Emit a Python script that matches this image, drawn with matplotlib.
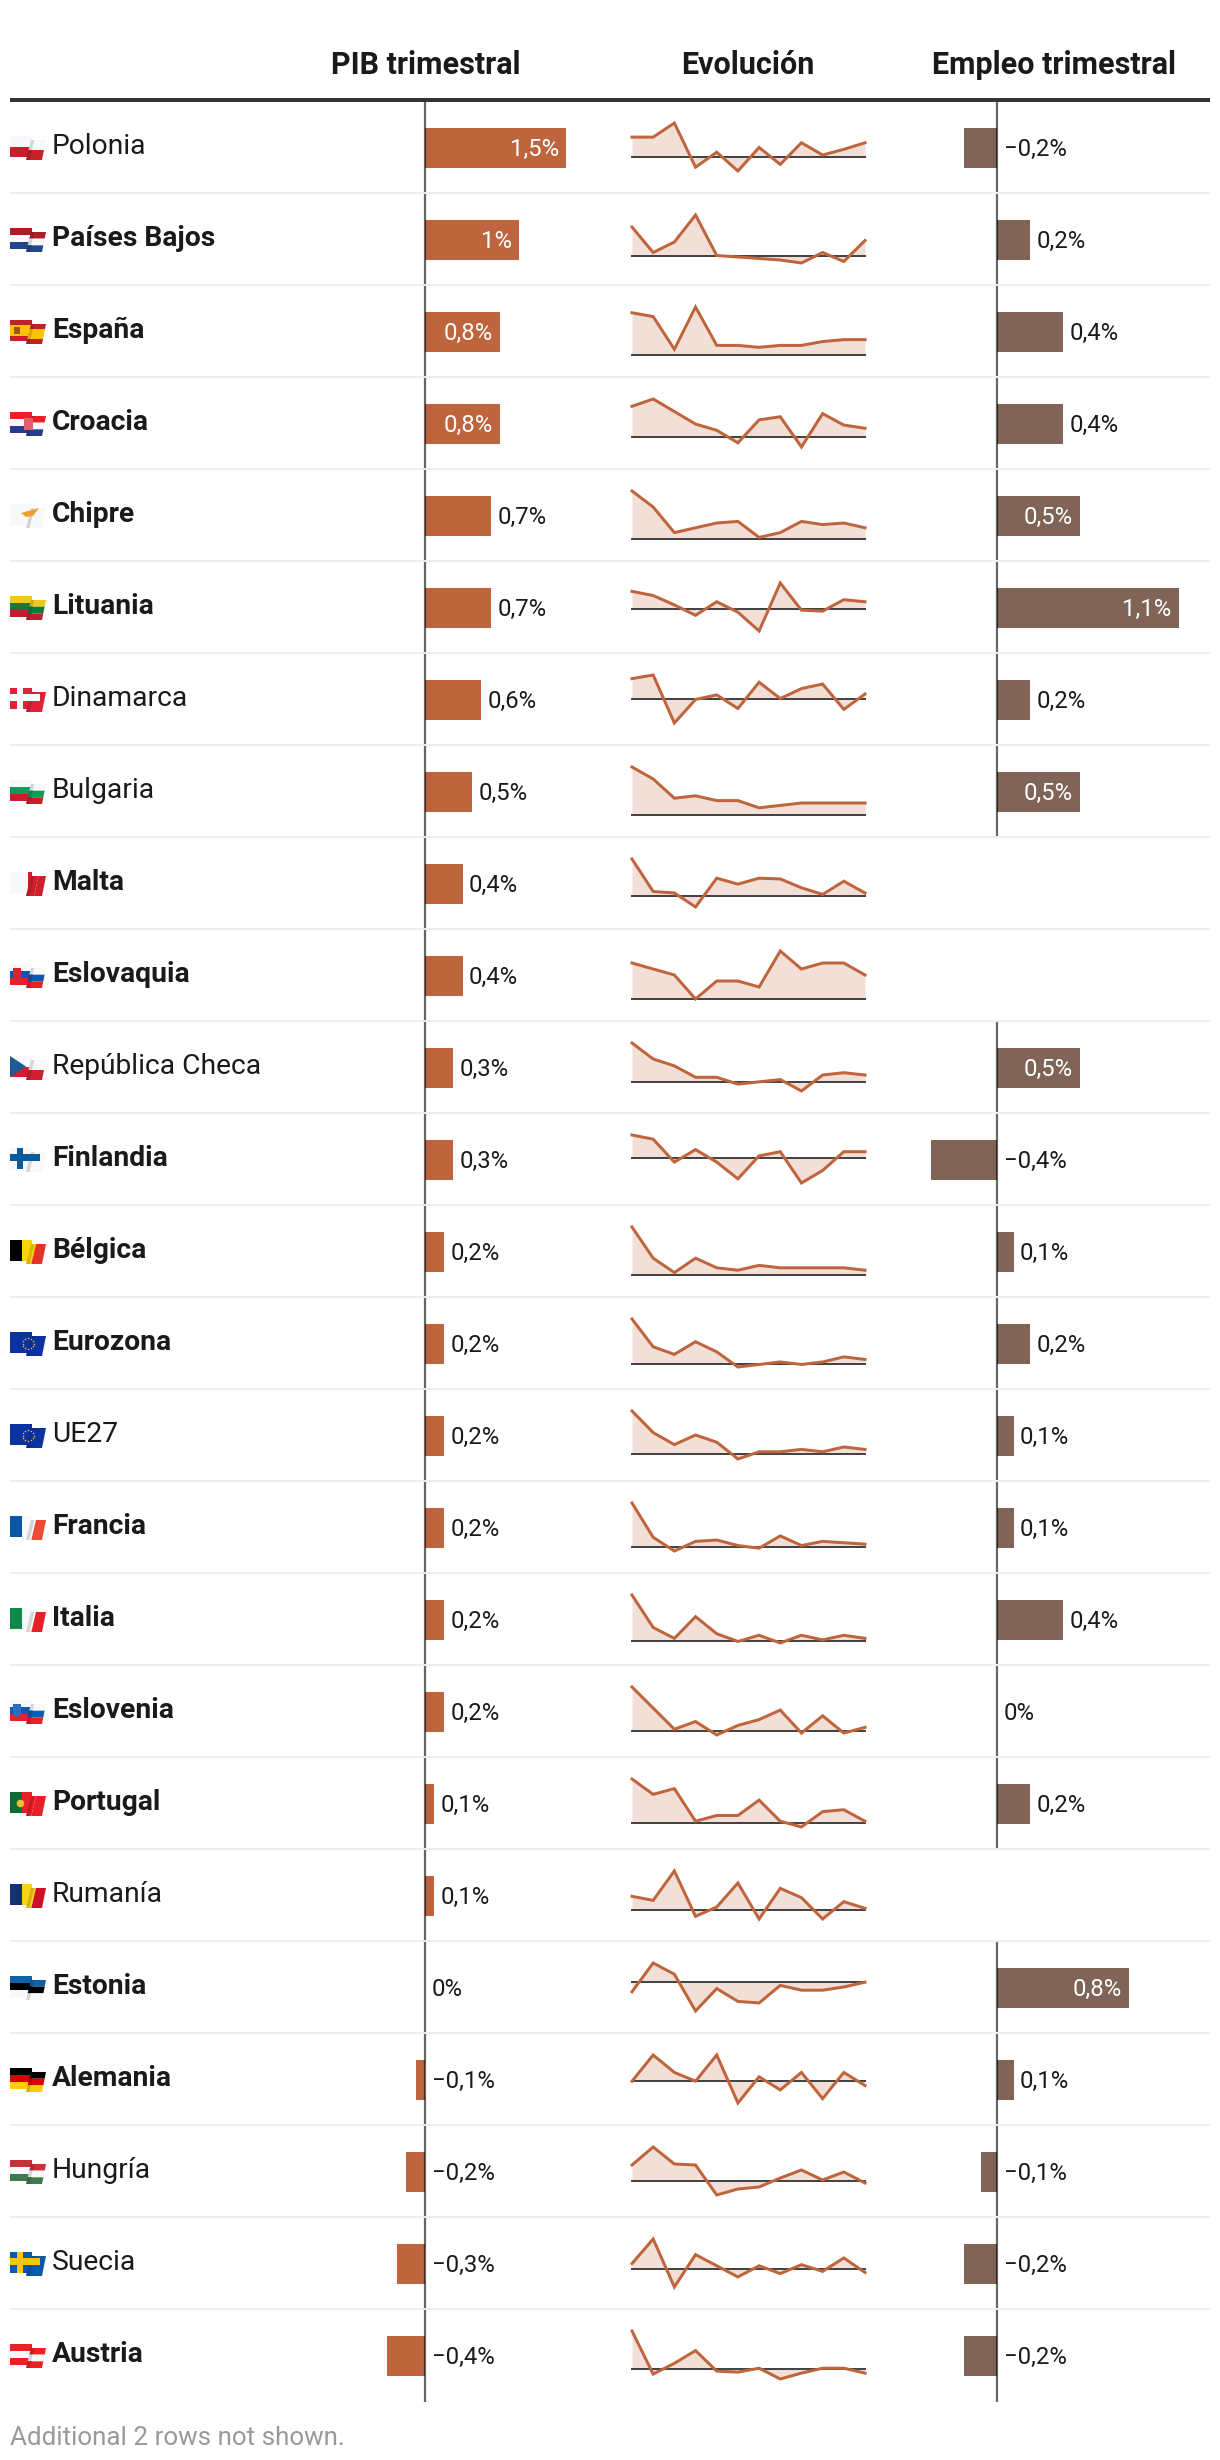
import matplotlib
matplotlib.use('Agg')
import matplotlib.pyplot as plt
import numpy as np

plt.rcParams['font.family'] = ['Roboto', 'DejaVu Sans']

countries = ['Polonia', 'Países Bajos', 'España', 'Croacia', 'Chipre', 'Lituania', 'Dinamarca', 'Bulgaria',
             'Malta', 'Eslovaquia', 'República Checa', 'Finlandia', 'Bélgica', 'Eurozona', 'UE27', 'Francia',
             'Italia', 'Eslovenia', 'Portugal', 'Rumanía', 'Estonia', 'Alemania', 'Hungría', 'Suecia', 'Austria']
bold_names = ['Países Bajos', 'España', 'Croacia', 'Chipre', 'Lituania', 'Malta', 'Eslovaquia', 'Finlandia',
              'Bélgica', 'Eurozona', 'Francia', 'Italia', 'Eslovenia', 'Portugal', 'Estonia', 'Alemania', 'Austria']

pib = [1.5, 1, 0.8, 0.8, 0.7, 0.7, 0.6, 0.5, 0.4, 0.4, 0.3, 0.3, 0.2, 0.2, 0.2, 0.2, 0.2, 0.2, 0.1, 0.1,
       0, -0.1, -0.2, -0.3, -0.4]
empleo = [-0.2, 0.2, 0.4, 0.4, 0.5, 1.1, 0.2, 0.5, None, None, 0.5, -0.4, 0.1, 0.2, 0.1, 0.1, 0.4, 0, 0.2, None,
          0.8, 0.1, -0.1, -0.2, -0.2]

evolucion = [
    [2.1, 2.1, 3.6, -1.1, 0.5, -1.5, 1.0, -0.8, 1.5, 0.2, 0.8, 1.5],
    [1.9, 0.2, 0.9, 2.7, 0.0, -0.1, -0.2, -0.3, -0.5, 0.2, -0.4, 1.0],
    [2.2, 2.0, 0.3, 2.5, 0.5, 0.5, 0.4, 0.5, 0.5, 0.7, 0.8, 0.8],
    [2.9, 3.6, 2.4, 1.2, 0.6, -0.6, 1.6, 1.9, -1.0, 2.2, 1.1, 0.8],
    [3.0, 2.0, 0.4, 0.7, 1.0, 1.1, 0.1, 0.4, 1.1, 0.9, 1.0, 0.7],
    [1.7, 1.3, 0.4, -0.6, 0.7, -0.3, -2.1, 2.5, -0.1, -0.2, 0.9, 0.7],
    [2.3, 2.7, -2.6, 0.0, 0.5, -1.0, 1.9, 0.1, 1.2, 1.7, -1.1, 0.6],
    [2.0, 1.5, 0.7, 0.8, 0.6, 0.6, 0.3, 0.4, 0.5, 0.5, 0.5, 0.5],
    [5.0, 0.6, 0.4, -1.5, 2.4, 1.6, 2.4, 2.3, 1.1, 0.2, 2.0, 0.4],
    [0.6, 0.5, 0.4, 0.0, 0.3, 0.3, 0.2, 0.8, 0.5, 0.6, 0.6, 0.4],
    [1.7, 1.0, 0.7, 0.2, 0.2, -0.1, 0.0, 0.1, -0.4, 0.3, 0.4, 0.3],
    [1.1, 0.9, -0.2, 0.4, -0.2, -1.0, 0.1, 0.3, -1.2, -0.6, 0.3, 0.3],
    [2.0, 0.7, 0.1, 0.7, 0.3, 0.2, 0.4, 0.3, 0.3, 0.3, 0.3, 0.2],
    [1.8, 0.7, 0.4, 0.9, 0.5, -0.1, 0.0, 0.1, 0.0, 0.1, 0.3, 0.2],
    [1.8, 0.9, 0.4, 0.8, 0.5, -0.2, 0.1, 0.1, 0.2, 0.1, 0.3, 0.2],
    [3.2, 0.7, -0.3, 0.4, 0.5, 0.1, -0.1, 0.8, 0.1, 0.4, 0.3, 0.2],
    [3.0, 0.9, 0.2, 1.6, 0.5, 0.0, 0.4, -0.1, 0.4, 0.1, 0.4, 0.2],
    [2.3, 1.2, 0.1, 0.5, -0.2, 0.3, 0.6, 1.1, -0.1, 0.8, -0.1, 0.2],
    [2.3, 1.5, 1.8, 0.1, 0.4, 0.4, 1.2, 0.1, -0.2, 0.6, 0.7, 0.1],
    [1.0, 0.7, 2.9, -0.5, 0.2, 2.0, -0.7, 1.6, 0.9, -0.7, 0.6, 0.1],
    [-0.6, 1.2, 0.5, -1.8, -0.4, -1.2, -1.3, -0.2, -0.5, -0.5, -0.3, 0.0],
    [0.0, 0.6, 0.2, 0.0, 0.6, -0.5, 0.1, -0.2, 0.2, -0.4, 0.2, -0.1],
    [1.6, 3.4, 1.7, 1.6, -1.4, -0.8, -0.6, 0.3, 1.1, 0.1, 0.9, -0.2],
    [0.5, 2.7, -1.6, 1.3, 0.3, -0.7, 0.3, -0.4, 0.4, -0.2, 1.0, -0.3],
    [3.9, -0.5, 0.6, 1.9, -0.2, -0.3, 0.1, -1.0, -0.4, 0.1, 0.1, -0.4],
]

headers = ['PIB trimestral', 'Evolución', 'Empleo trimestral']
footer = 'Additional 2 rows not shown.'

WHITE = '#f7f8fa'
flags = {
    'Polonia': ('h', [WHITE, '#c8202b']),
    'Países Bajos': ('h', ['#ae1c28', WHITE, '#21468b']),
    'España': ('h', ['#c4202c', '#fbc400', '#fbc400', '#c4202c']),
    'Croacia': ('h', ['#e8202a', WHITE, '#2b3a8f']),
    'Chipre': ('h', [WHITE]),
    'Lituania': ('h', ['#f0c71a', '#0f7b3e', '#bf2030']),
    'Dinamarca': ('h', ['#e3203a']),
    'Bulgaria': ('h', [WHITE, '#129a5b', '#c8202b']),
    'Malta': ('v', [WHITE, WHITE, '#cf1f2e', '#cf1f2e']),
    'Eslovaquia': ('h', [WHITE, '#0f56b0', '#e8202a']),
    'República Checa': ('h', [WHITE, '#cf1f2e']),
    'Finlandia': ('h', [WHITE]),
    'Bélgica': ('v', ['#000000', '#fdd400', '#e6332a']),
    'Eurozona': ('h', ['#0a33a0']),
    'UE27': ('h', ['#0a33a0']),
    'Francia': ('v', ['#0a55a8', WHITE, '#f04a32']),
    'Italia': ('v', ['#0f8a48', WHITE, '#e42028']),
    'Eslovenia': ('h', [WHITE, '#0b5cb8', '#e8202a']),
    'Portugal': ('v', ['#0f6b35', '#e8202a', '#e8202a']),
    'Rumanía': ('v', ['#14306e', '#fcd116', '#ce1126']),
    'Estonia': ('h', ['#0f62a8', '#000000', WHITE]),
    'Alemania': ('h', ['#000000', '#dd0000', '#ffce00']),
    'Hungría': ('h', ['#c8303a', WHITE, '#3f7a4e']),
    'Suecia': ('h', ['#0a5aa8']),
    'Austria': ('h', ['#ed2024', WHITE, '#ed2024']),
}
crosses = {'Dinamarca': WHITE, 'Finlandia': '#0a5a9c', 'Suecia': '#fcc40c'}

PIB_COLOR = '#bf653d'
EMP_COLOR = '#806457'
TEXT = '#1a1a1a'
W, H = 1220, 2460
ROW = 92
N = len(countries)


def pt(px):
    return px * 0.72


def px_axes(x0, y0, x1, y1, **kw):
    # axes placed by pixel box, y counted from the top like the picture
    return fig.add_axes([x0 / W, 1 - y1 / H, (x1 - x0) / W, (y1 - y0) / H], **kw)


def fmt(v):
    s = f'{abs(v):g}'.replace('.', ',') + '%'
    return '−' + s if v < 0 else s


def quad(ax, corners, u0, u1, v0, v1, **kw):
    tl, tr, br, bl = [np.array(c, dtype=float) for c in corners]
    def p(u, v):
        return (1 - v) * ((1 - u) * tl + u * tr) + v * ((1 - u) * bl + u * br)
    ax.fill(*zip(p(u0, v0), p(u1, v0), p(u1, v1), p(u0, v1)), lw=0, **kw)


def draw_flag(ax, name, top):
    kind, cols = flags[name]
    left = [(10, top + 35), (32, top + 35), (32, top + 56), (10, top + 56)]
    right = [(31, top + 39), (46, top + 39), (42, top + 59), (26, top + 59)]
    n = len(cols)
    for corners, ua, ub in [(left, 0, 0.6), (right, 0.5, 1)]:
        for k, c in enumerate(cols):
            if kind == 'h':
                quad(ax, corners, 0, 1, k / n, (k + 1) / n, color=c, zorder=3)
            else:
                a, b = max(k / n, ua), min((k + 1) / n, ub)
                if a < b:
                    quad(ax, corners, (a - ua) / (ub - ua), (b - ua) / (ub - ua), 0, 1, color=c, zorder=3)
    # fold between both halves
    quad(ax, right, 0, 0.22, 0, 1, color='black', alpha=0.14, zorder=3.1)
    if name in crosses:
        c = crosses[name]
        ax.fill([10, 40, 40, 10], [top + 41, top + 41, top + 48, top + 48], color=c, lw=0, zorder=3.2)
        ax.fill([17, 23, 23, 17], [top + 35, top + 35, top + 56, top + 56], color=c, lw=0, zorder=3.2)
    if name in ('Eurozona', 'UE27'):
        t = np.linspace(0, 2 * np.pi, 12, endpoint=False)
        ax.scatter(28 + 5.5 * np.cos(t), top + 46.5 + 5.5 * np.sin(t), s=1.2, color='#f0c030', lw=0, zorder=3.2)
    if name == 'Croacia':
        ax.fill([24, 33, 33, 24], [top + 41, top + 41, top + 53, top + 53], color='#e0606a', lw=0, zorder=3.2)
    if name == 'Chipre':
        ax.fill([21, 28, 39, 33, 26], [top + 44, top + 42, top + 39, top + 47, top + 48], color='#f0a030', lw=0, zorder=3.2)
    if name == 'República Checa':
        ax.fill([10, 26, 10], [top + 35, top + 45.5, top + 56], color='#1d5a96', lw=0, zorder=3.2)
    if name in ('Eslovaquia', 'Eslovenia'):
        ax.fill([13, 21, 21, 17, 13], [top + 39, top + 39, top + 49, top + 52, top + 49],
                color='#d8262e' if name == 'Eslovaquia' else '#2a70c0', lw=0, zorder=3.2)
    if name == 'Portugal':
        ax.scatter([20], [top + 46], s=30, color='#e8c030', lw=0, zorder=3.2)
    if name == 'España':
        ax.fill([14, 20, 20, 14], [top + 42, top + 42, top + 49, top + 49], color='#a8501a', lw=0, zorder=3.2)


def bar_column(x_zero, per_unit, vals, color):
    lo, hi = -0.7, 1.6
    ax = px_axes(x_zero + lo * per_unit, 102, x_zero + hi * per_unit, 102 + ROW * N, zorder=1)
    ax.set_xlim(lo, hi)
    ax.set_ylim(N - 0.5, -0.5)
    ax.axis('off')
    for i, v in enumerate(vals):
        if v is None:
            continue
        ax.barh(i, v, height=40 / ROW, color=color, zorder=2)
        ax.plot([0, 0], [i - 0.5, i + 0.5], color='black', alpha=0.6, lw=pt(2.2), solid_capstyle='butt', zorder=3)
        inside = v * per_unit > 70
        x = max(v, 0)
        ax.annotate(fmt(v), (x, i), xytext=(pt(-7 if inside else 6.5), pt(-7.5)), textcoords='offset points',
                    ha='right' if inside else 'left', va='baseline', fontsize=17.2,
                    color='white' if inside else TEXT, zorder=4)


fig = plt.figure(figsize=(W / 100, H / 100), dpi=100, facecolor='white')

bar_column(425, 94, pib, PIB_COLOR)
bar_column(997, 165, empleo, EMP_COLOR)

for i, vals in enumerate(evolucion):
    top = 101 + ROW * i
    ax = px_axes(632, top + 22, 865, top + 70, zorder=1)
    xs = np.arange(len(vals))
    ax.set_xlim(0, len(vals) - 1)
    ax.set_ylim(min(0, min(vals)), max(0, max(vals)))
    ax.axis('off')
    ax.fill_between(xs, vals, 0, color=PIB_COLOR, alpha=0.2, lw=0, clip_on=False)
    ax.axhline(0, color='#444444', lw=pt(2), clip_on=False, zorder=3)
    ax.plot(xs, vals, color=PIB_COLOR, lw=pt(3), clip_on=False, zorder=4, solid_joinstyle='miter')

top_ax = fig.add_axes([0, 0, 1, 1], zorder=5)
top_ax.set_xlim(0, W)
top_ax.set_ylim(H, 0)
top_ax.axis('off')

for x, h in zip([425.5, 747.5, 1054], headers):
    top_ax.text(x, 73.5, h, ha='center', va='baseline', fontsize=22, fontweight='bold', color=TEXT)
top_ax.plot([10, 1210], [100, 100], color='#333333', lw=pt(4), solid_capstyle='butt')

for i, name in enumerate(countries):
    top = 101 + ROW * i
    top_ax.text(52, top + 53, name, ha='left', va='baseline', fontsize=20.3,
                fontweight='bold' if name in bold_names else 'normal', color=TEXT)
    draw_flag(top_ax, name, top)
    if i < N - 1:
        top_ax.plot([10, 1210], [top + ROW, top + ROW], color='#eeeeee', lw=pt(2), solid_capstyle='butt')

top_ax.text(10, 2445, footer, ha='left', va='baseline', fontsize=18.7, color='#999999')

fig.savefig('out.png', dpi=100, facecolor='white')
